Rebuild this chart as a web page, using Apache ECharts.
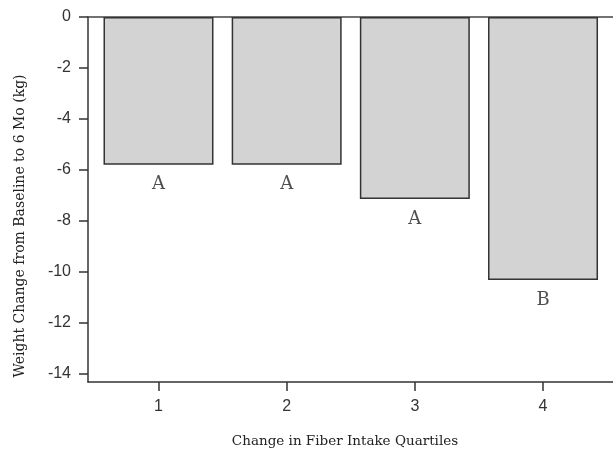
<!DOCTYPE html>
<html><head><meta charset="utf-8">
<script src="https://cdn.jsdelivr.net/npm/echarts@6/dist/echarts.min.js"></script>
<style>html,body{margin:0;padding:0;background:#fff}#c{width:613px;height:452px}</style>
</head><body><div id="c"></div>
<script>
const quartiles = [1, 2, 3, 4];
const weightChange = [-5.8, -5.8, -7.15, -10.33];
const groupLetters = ['A', 'A', 'A', 'B'];
const yTicks = [0, -2, -4, -6, -8, -10, -12, -14];
const xTicks = [1, 2, 3, 4];

const chart = echarts.init(document.getElementById('c'));
const barData = quartiles.map((q, i) => [q, weightChange[i]]);
const letterData = quartiles.map((q, i) => ({ value: [q, weightChange[i]], label: { formatter: groupLetters[i] } }));
const XMIN = 0.45, XMAX = 4.546;
chart.setOption({
  animation: false,
  backgroundColor: '#fff',
  grid: { left: 88, top: 17, right: 0, bottom: 70 },
  xAxis: [{
    type: 'value', min: XMIN, max: XMAX, position: 'bottom',
    axisLine: { onZero: false, lineStyle: { color: '#333', width: 1.5 } },
    axisTick: { customValues: xTicks, length: 9, lineStyle: { color: '#333', width: 1.5 } },
    axisLabel: { customValues: xTicks, margin: 17, color: '#333', fontFamily: 'Liberation Sans', fontSize: 16 },
    splitLine: { show: false }
  }, {
    type: 'value', min: XMIN, max: XMAX, position: 'top',
    axisLine: { onZero: false, lineStyle: { color: '#444', width: 1.5 } },
    axisTick: { show: false }, axisLabel: { show: false }, splitLine: { show: false }
  }],
  yAxis: {
    type: 'value', min: -14.34, max: 0,
    axisLine: { show: true, onZero: false, lineStyle: { color: '#333', width: 1.5 } },
    axisTick: { show: true, customValues: yTicks, length: 9, lineStyle: { color: '#333', width: 1.5 } },
    axisLabel: { customValues: yTicks, margin: 17, color: '#333', fontFamily: 'Liberation Sans', fontSize: 16 },
    splitLine: { show: false }
  },
  series: [{
    type: 'bar', data: barData, barWidth: 110,
    itemStyle: { color: '#d3d3d3', borderColor: '#333', borderWidth: 1.5 }
  }, {
    type: 'scatter', data: letterData, symbolSize: 0,
    label: { show: true, position: 'bottom', distance: 11, color: '#222', fontFamily: 'DejaVu Serif', fontSize: 18 }
  }],
  graphic: [{
    type: 'text', x: 20, y: 226, rotation: Math.PI / 2,
    style: { text: 'Weight Change from Baseline to 6 Mo (kg)', fill: '#222', font: '14px "DejaVu Serif"', align: 'center', verticalAlign: 'middle' }
  }, {
    type: 'text', x: 345, y: 441,
    style: { text: 'Change in Fiber Intake Quartiles', fill: '#222', font: '13.5px "DejaVu Serif"', align: 'center', verticalAlign: 'middle' }
  }]
});
</script></body></html>
